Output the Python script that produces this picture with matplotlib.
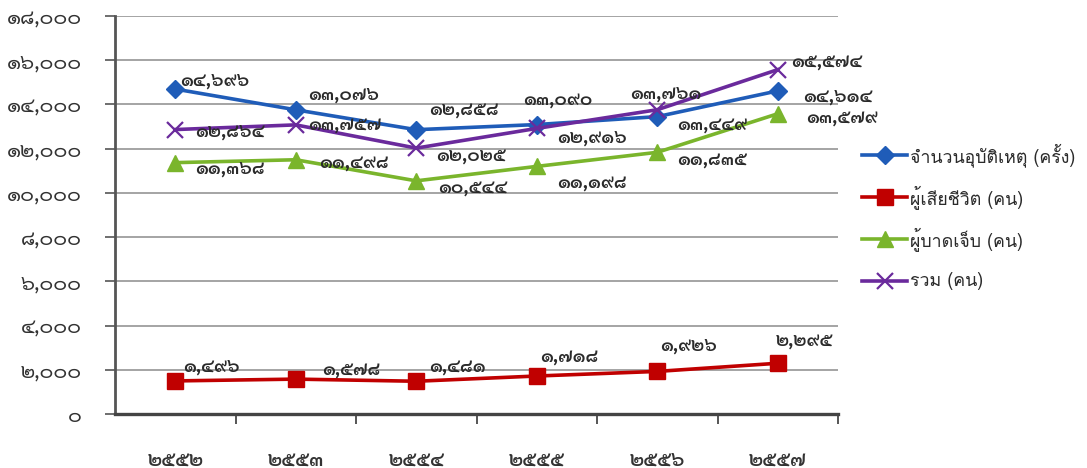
import matplotlib
matplotlib.use("Agg")
import matplotlib.pyplot as plt
from matplotlib.lines import Line2D
from matplotlib.ticker import FixedLocator

# Road accident statistics, B.E. 2552-2557
years = ["๒๕๕๒", "๒๕๕๓", "๒๕๕๔", "๒๕๕๕", "๒๕๕๖", "๒๕๕๗"]
accidents = [14696, 13757, 12858, 13090, 13449, 14614]
deaths = [1496, 1578, 1481, 1718, 1926, 2295]
injured = [11368, 11498, 10544, 11198, 11835, 13579]
total = [12864, 13076, 12025, 12916, 13761, 15574]

series_names = ["จำนวนอุบัติเหตุ (ครั้ง)", "ผู้เสียชีวิต (คน)", "ผู้บาดเจ็บ (คน)", "รวม (คน)"]
y_ticks = list(range(0, 18001, 2000))

THAI_DIGITS = str.maketrans("0123456789", "๐๑๒๓๔๕๖๗๘๙")


def thai_num(v):
    return f"{int(v):,}".translate(THAI_DIGITS)


NUM_FONT = ["Sarabun", "DejaVu Sans"]
TXT_FONT = ["Loma", "Noto Sans Thai", "DejaVu Sans"]

styles = [
    dict(color="#1f5cb8", marker="D", ms=9, mew=1),
    dict(color="#c00000", marker="s", ms=11, mew=1),
    dict(color="#7ab52c", marker="^", ms=11, mew=1),
    dict(color="#6a2a9c", marker="x", ms=11, mew=1.6),
]
all_series = [accidents, deaths, injured, total]

# label offsets in pixels (dx, dy) for each series / year
label_offsets = [
    [(5, 9), (12, -15), (13, 20), (-14, 25), (20, -8), (25, -6)],
    [(8, 14), (26, 10), (13, 15), (3, 19), (3, 26), (-2, 23)],
    [(20, -6), (23, -3), (22, -7), (20, -16), (20, -7), (28, -4)],
    [(20, -2), (12, 30), (20, -7), (20, -9), (-27, 16), (13, 8)],
]

W, H = 1087, 468
fig = plt.figure(figsize=(W / 100, H / 100), dpi=100)
ax = fig.add_axes([115 / W, 1 - 414 / H, (838 - 115) / W, (414 - 16) / H])

x = list(range(len(years)))
for vals, st, offs in zip(all_series, styles, label_offsets):
    ax.plot(x, vals, color=st["color"], lw=2.6, marker=st["marker"],
            ms=st["ms"], mew=st["mew"], mec=st["color"], mfc=st["color"],
            zorder=3, solid_joinstyle="round")
    for xi, v, (dx, dy) in zip(x, vals, offs):
        ax.annotate(thai_num(v), (xi, v), xytext=(dx, dy),
                    textcoords="offset pixels", ha="left", va="center",
                    fontsize=13.5, family=NUM_FONT, color="#2b2b2b",
                    fontweight="semibold", zorder=4)

ax.set_xlim(-0.5, len(years) - 0.5)
ax.set_ylim(0, 18000)

ax.yaxis.set_major_locator(FixedLocator(y_ticks))
ax.set_yticklabels([thai_num(t) for t in y_ticks], family=NUM_FONT,
                   fontsize=15, color="#333333")
ax.grid(axis="y", color="#8c8c8c", lw=1.1)
ax.set_axisbelow(True)

# category labels centred, tick marks on category boundaries
ax.set_xticks(x)
ax.set_xticklabels(years, family=NUM_FONT, fontsize=14.5, color="#333333",
                   fontweight="semibold")
ax.tick_params(axis="x", which="major", length=0, pad=27)
ax.set_xticks([i + 0.5 for i in x], minor=True)
ax.tick_params(axis="x", which="minor", length=7, width=1.4, color="#555555",
               direction="out")
ax.tick_params(axis="y", length=7, width=1.2, color="#555555",
               direction="out", pad=17)

for side in ("top", "right"):
    ax.spines[side].set_visible(False)
ax.spines["left"].set_color("#555555")
ax.spines["left"].set_linewidth(2)
ax.spines["bottom"].set_color("#444444")
ax.spines["bottom"].set_linewidth(2.4)

# legend rows laid out at an even pitch on the right-hand side
leg_x0, leg_x1, leg_y0, leg_step = 862, 907, 155, 42
for i, (name, st) in enumerate(zip(series_names, styles)):
    yy = 1 - (leg_y0 + i * leg_step) / H
    fig.add_artist(Line2D([leg_x0 / W, leg_x1 / W], [yy, yy],
                          color=st["color"], lw=2.6))
    fig.add_artist(Line2D([(leg_x0 + leg_x1) / 2 / W], [yy],
                          color=st["color"], marker=st["marker"], ms=st["ms"],
                          mew=st["mew"], mec=st["color"], mfc=st["color"]))
    fig.text((leg_x1 + 3) / W, yy, name, ha="left", va="center",
             family=TXT_FONT, fontsize=12.8, color="#2b2b2b")

fig.savefig("out.png", dpi=100)
